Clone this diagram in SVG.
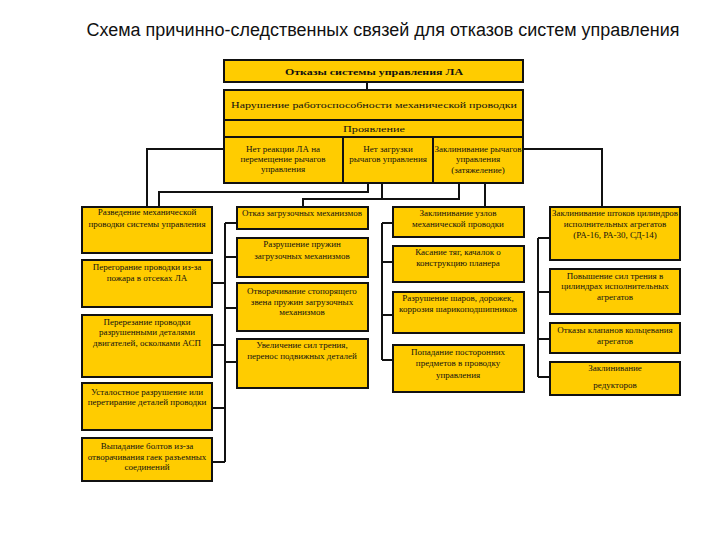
<svg xmlns="http://www.w3.org/2000/svg" width="720" height="540" viewBox="0 0 720 540">
<style>
.b{fill:#FFCC00;stroke:#111;stroke-width:2}
.t{font-family:"Liberation Serif","Times New Roman",serif;font-size:9px;fill:#111;text-anchor:middle}
.c{fill:none;stroke:#111;stroke-width:2}
</style>
<rect width="720" height="540" fill="#fff"/>
<text x="383" y="36" font-family="Liberation Sans,Arial,sans-serif" font-size="18" fill="#111" text-anchor="middle" textLength="593" lengthAdjust="spacingAndGlyphs">Схема причинно-следственных связей для отказов систем управления</text>
<g id="connectors">
<path class="c" d="M367 82V90"/>
<path class="c" d="M224 149H147V207"/>
<path class="c" d="M523 149H602V207"/>
<path class="c" d="M368 183V192H159V207"/>
<path class="c" d="M382 183V199H303V207M459 183V199H382"/>
<path class="c" d="M485 183V207"/>
<path class="c" d="M225 223V462M212 283H225M212 345H225M212 408H225M212 462H225M225 223H237M225 257H237M225 308H237M225 362H237"/>
<path class="c" d="M382 223V360M382 223H393M382 262H393M382 315H393M382 360H393"/>
<path class="c" d="M538 238V377M538 238H550M538 292H550M538 339H550M538 377H550"/>
</g>
<g id="top"><rect class="b" x="224" y="60" width="299" height="22"/><text class="t" x="374" y="75" font-size="11" font-weight="bold" textLength="178" lengthAdjust="spacingAndGlyphs">Отказы системы управления ЛА</text></g>
<g id="violation"><rect class="b" x="224" y="90" width="299" height="30"/><text class="t" x="374" y="108" font-size="12" textLength="286" lengthAdjust="spacingAndGlyphs">Нарушение работоспособности механической проводки</text></g>
<g id="manifest"><rect class="b" x="224" y="120" width="299" height="17"/><text class="t" x="374" y="132" font-size="10.5" textLength="62" lengthAdjust="spacingAndGlyphs">Проявление</text></g>
<g id="s1"><rect class="b" x="224" y="137" width="119" height="46"/><text class="t" x="283" y="152">Нет реакции ЛА на</text><text class="t" x="283" y="162">перемещение рычагов</text><text class="t" x="283" y="172">управления</text></g>
<g id="s2"><rect class="b" x="343" y="137" width="90" height="46"/><text class="t" x="388" y="152">Нет загрузки</text><text class="t" x="388" y="162">рычагов управления</text></g>
<g id="s3"><rect class="b" x="433" y="137" width="90" height="46"/><text class="t" x="478" y="152">Заклинивание рычагов</text><text class="t" x="478" y="162">управления</text><text class="t" x="478" y="173">(затяжеление)</text></g>
<g id="l1"><rect class="b" x="82" y="207" width="130" height="46"/><text class="t" x="147" y="215">Разведение механической</text><text class="t" x="147" y="227">проводки системы управления</text></g>
<g id="l2"><rect class="b" x="82" y="260" width="130" height="47"/><text class="t" x="147" y="270">Перегорание проводки из-за</text><text class="t" x="147" y="281">пожара в отсеках ЛА</text></g>
<g id="l3"><rect class="b" x="82" y="315" width="130" height="62"/><text class="t" x="147" y="325">Перерезание проводки</text><text class="t" x="147" y="335">разрушенными деталями</text><text class="t" x="147" y="346">двигателей, осколками АСП</text></g>
<g id="l4"><rect class="b" x="82" y="383" width="130" height="47"/><text class="t" x="147" y="395">Усталостное разрушение или</text><text class="t" x="147" y="405">перетирание деталей проводки</text></g>
<g id="l5"><rect class="b" x="82" y="438" width="130" height="43"/><text class="t" x="147" y="449">Выпадание болтов из-за</text><text class="t" x="147" y="460">отворачивания гаек разъемных</text><text class="t" x="147" y="470">соединений</text></g>
<g id="m1"><rect class="b" x="237" y="207" width="131" height="22"/><text class="t" x="302" y="216">Отказ загрузочных механизмов</text></g>
<g id="m2"><rect class="b" x="237" y="238" width="131" height="39"/><text class="t" x="302" y="247">Разрушение  пружин</text><text class="t" x="302" y="259">загрузочных механизмов</text></g>
<g id="m3"><rect class="b" x="237" y="283" width="131" height="48"/><text class="t" x="302" y="294">Отворачивание стопорящего</text><text class="t" x="302" y="305">звена пружин загрузочных</text><text class="t" x="302" y="315">механизмов</text></g>
<g id="m4"><rect class="b" x="237" y="339" width="131" height="49"/><text class="t" x="302" y="348">Увеличение сил трения,</text><text class="t" x="302" y="359">перенос подвижных деталей</text></g>
<g id="n1"><rect class="b" x="393" y="207" width="131" height="30"/><text class="t" x="458" y="216">Заклинивание  узлов</text><text class="t" x="458" y="227">механической проводки</text></g>
<g id="n2"><rect class="b" x="393" y="246" width="131" height="36"/><text class="t" x="458" y="255">Касание тяг, качалок о</text><text class="t" x="458" y="266">конструкцию планера</text></g>
<g id="n3"><rect class="b" x="393" y="292" width="131" height="41"/><text class="t" x="458" y="301">Разрушение шаров, дорожек,</text><text class="t" x="458" y="312">коррозия шарикоподшипников</text></g>
<g id="n4"><rect class="b" x="393" y="345" width="131" height="47"/><text class="t" x="458" y="355">Попадание посторонних</text><text class="t" x="458" y="366">предметов в проводку</text><text class="t" x="458" y="378">управления</text></g>
<g id="r1"><rect class="b" x="550" y="207" width="130" height="53"/><text class="t" x="615" y="216" textLength="126" lengthAdjust="spacingAndGlyphs">Заклинивание штоков цилиндров</text><text class="t" x="615" y="227">исполнительных агрегатов</text><text class="t" x="615" y="238" font-size="10">(РА-16, РА-30, СД-14)</text></g>
<g id="r2"><rect class="b" x="550" y="269" width="130" height="45"/><text class="t" x="615" y="279">Повышение сил трения в</text><text class="t" x="615" y="289">цилиндрах исполнительных</text><text class="t" x="615" y="300">агрегатов</text></g>
<g id="r3"><rect class="b" x="550" y="323" width="130" height="30"/><text class="t" x="615" y="333">Отказы клапанов кольцевания</text><text class="t" x="615" y="344">агрегатов</text></g>
<g id="r4"><rect class="b" x="550" y="362" width="130" height="33"/><text class="t" x="615" y="371">Заклинивание</text><text class="t" x="615" y="388">редукторов</text></g>
</svg>
